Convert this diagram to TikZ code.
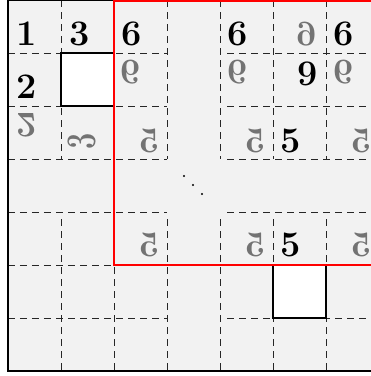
\documentclass[tikz,border=0pt]{standalone}
\usepackage{graphicx}
\tikzset{
  num/.style={inner sep=0pt, font=\fontsize{36}{43}\selectfont\bfseries},
  ghost/.style={num, text=black!55},
  gridl/.style={dash pattern=on 7pt off 5pt, line width=0.9pt, black!85},
  frameline/.style={line width=1.5pt, black},
  redbox/.style={line width=1.8pt, red},
  whitecell/.style={fill=white, line width=1.2pt, draw=black},
}
\begin{document}
\begin{tikzpicture}[x=1pt,y=-1pt]
\clip (0,0) rectangle (371,376);
\fill[black!5] (8,0) rectangle (420,371);
% dashed grid lines, four blocks
\foreach \y in {53,106,159,212,265,318} {
  \draw[gridl] (8,\y) -- (167,\y);
  \draw[gridl] (227,\y) -- (420,\y);
}
\foreach \x in {61,167,220,273,326} \draw[gridl] (\x,0) -- (\x,159);
\foreach \x in {61,114,167,220,273,326} \draw[gridl] (\x,219) -- (\x,371);
% white cells
\draw[whitecell] (61,53) rectangle (114,106);
\draw[whitecell] (273,265) rectangle (326,318);
% frame
\draw[frameline] (420,0.5) -- (8,0.5) -- (8,371) -- (420,371);
% red region
\draw[redbox] (420,1) -- (114,1) -- (114,265) -- (420,265);
% diagonal dots
\fill (184,176) circle (1.1);
\fill (193,185) circle (1.1);
\fill (202,194) circle (1.1);
% black numbers
\node[num] (n1) at (26.5,34) {1};
\node[num] (n3) at (79.5,34) {3};
\node[num] (n6a) at (132,34) {6};
\node[num] (n6b) at (238,34) {6};
\node[num] (n6c) at (344,34) {6};
\node[num] (n2) at (26.5,87) {2};
\node[num] (n9) at (307.5,74) {9};
\node[num] (n5a) at (291,141) {5};
\node[num] (n5b) at (291,245) {5};
% grey reflected numbers
\node[ghost] (g9) at (307,34) {\scalebox{1}[-1]{9}};
\node[ghost] (g6a) at (131,72) {\scalebox{1}[-1]{6}};
\node[ghost] (g6b) at (238,72) {\scalebox{1}[-1]{6}};
\node[ghost] (g6c) at (344,72) {\scalebox{1}[-1]{6}};
\node[ghost] (g2) at (26.5,125) {\scalebox{1}[-1]{2}};
\node[ghost] (g3) at (81.5,141.5) {\scalebox{1.17}[0.8]{\rotatebox{90}{3}}};
\node[ghost] (g5a) at (149,141) {\reflectbox{5}};
\node[ghost] (g5b) at (255,141) {\reflectbox{5}};
\node[ghost] (g5c) at (361,141) {\reflectbox{5}};
\node[ghost] (g5d) at (149,245) {\reflectbox{5}};
\node[ghost] (g5e) at (255,245) {\reflectbox{5}};
\node[ghost] (g5f) at (361,245) {\reflectbox{5}};
\end{tikzpicture}
\end{document}
